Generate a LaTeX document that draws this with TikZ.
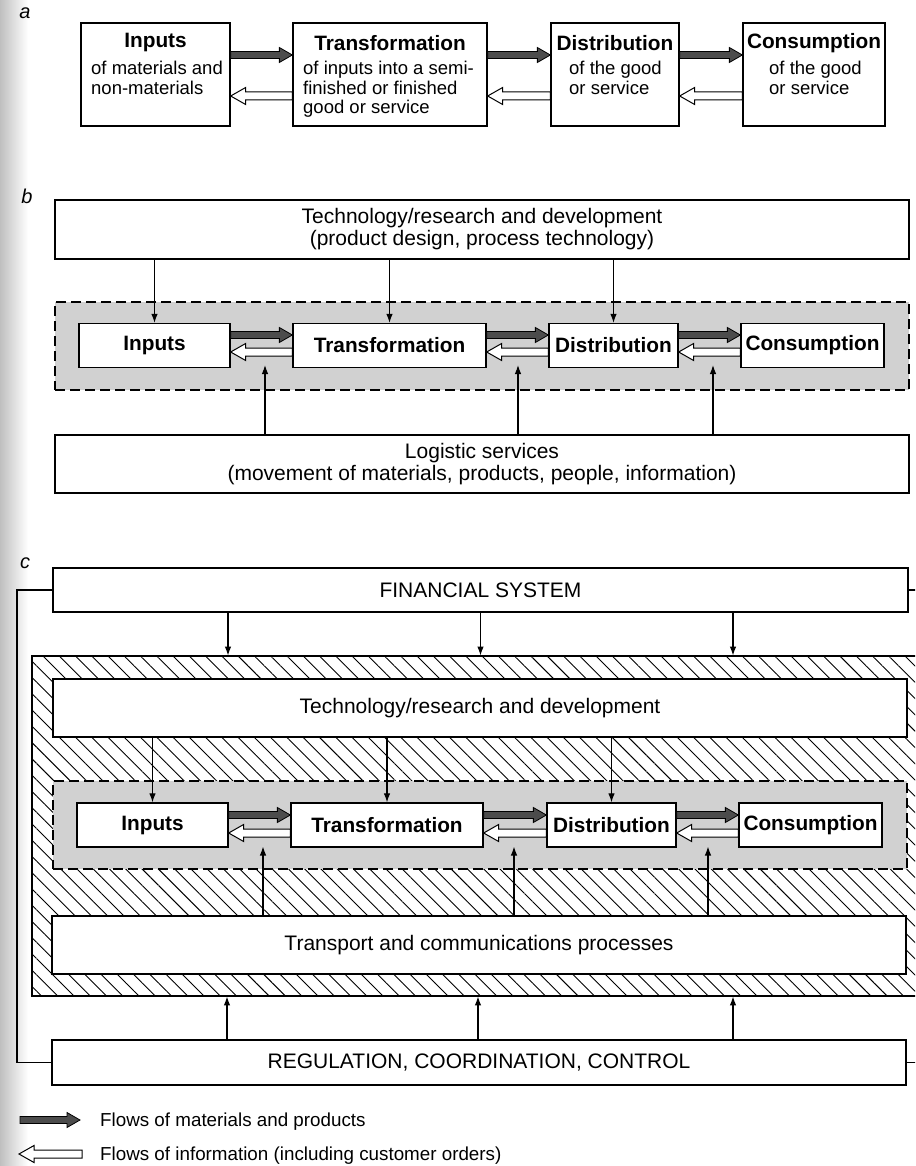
\documentclass[tikz,border=0pt]{standalone}
\usepackage{fontspec}
\setmainfont{Liberation Sans}
\usetikzlibrary{calc,arrows.meta,patterns.meta}

% horizontal block arrow: shaft half-height, head half-height, head length
\newcommand\flowshape[3]{%
  let \p1=(\tikztostart), \p2=(\tikztotarget),
      \p3=($(\tikztotarget)!#3!(\tikztostart)$) in
  (\x1,\y1+#1) -- (\x3,\y1+#1) -- (\x3,\y1+#2) -- (\x2,\y1)
  -- (\x3,\y1-#2) -- (\x3,\y1-#1) -- (\x1,\y1-#1) -- cycle}

\begin{document}
\begin{tikzpicture}[x=1pt,y=-1pt,
  box/.style={draw, line width=1.3pt, fill=white, inner sep=0pt},
  bigtxt/.style={font=\fontsize{21}{22}\selectfont, align=center},
  ttl/.style={inner sep=0pt, font=\fontsize{20.8}{22}\selectfont\bfseries},
  sub/.style={inner sep=0pt, align=left, font=\fontsize{18.5}{19.5}\selectfont},
  legend/.style={inner sep=0pt, anchor=west, font=\fontsize{18.8}{20}\selectfont},
  partlbl/.style={inner sep=0pt, font=\fontsize{20}{20}\selectfont\itshape},
  zone/.style={draw, line width=1.1pt, dash pattern=on 10pt off 5pt, fill=black!18, inner sep=0pt},
  hatchzone/.style={draw, line width=1.6pt, inner sep=0pt,
    pattern={Lines[angle=-45, distance=11.5pt, line width=0.9pt]}},
  flowline/.style={line width=1.1pt, -{Latex[length=9pt,width=6.5pt]}},
  matflow/.style={draw=black, line width=0.8pt, fill=black!70, line join=miter,
    to path={\flowshape{3.5pt}{7.5pt}{13pt}}},
  infoflow/.style={draw=black, line width=1pt, fill=white, line join=miter,
    to path={\flowshape{4pt}{8.5pt}{15pt}}},
]
\useasboundingbox (0,0) rectangle (915,1166);
\clip (0,0) rectangle (915,1166);
\fill[white] (0,0) rectangle (915,1166);
\shade[left color=black!25, right color=white] (0,0) rectangle (28,1166);

% ---------------- part a ----------------
\node[partlbl] (la) at (25,13) {a};

\node[box, minimum width=149pt, minimum height=103pt] (inA) at (155.5,74.5) {};
\node[box, minimum width=194pt, minimum height=103pt] (trA) at (390,74.5) {};
\node[box, minimum width=128pt, minimum height=103pt] (diA) at (615,74.5) {};
\node[box, minimum width=142pt, minimum height=103pt] (coA) at (814,74.5) {};

\node[ttl] (inAt) at (155.5,43) {Inputs};
\node[ttl] (trAt) at (390,43) {Transformation};
\node[ttl] (diAt) at (615,43) {Distribution};
\node[ttl] (coAt) at (814,43) {Consumption};

\node[sub, anchor=north west] (inAs) at (91,61) {of materials and\\non-materials};
\node[sub, anchor=north west] (trAs) at (303,61) {of inputs into a semi-\\finished or finished\\good or service};
\node[sub, anchor=north west] (diAs) at (569,61) {of the good\\or service};
\node[sub, anchor=north west] (coAs) at (769,61) {of the good\\or service};

\draw[matflow] ([yshift=19.5pt]inA.east) to ([yshift=19.5pt]trA.west);
\draw[matflow] ([yshift=19.5pt]trA.east) to ([yshift=19.5pt]diA.west);
\draw[matflow] ([yshift=19.5pt]diA.east) to ([yshift=19.5pt]coA.west);
\draw[infoflow] ([yshift=-21.5pt]trA.west) to ([yshift=-21.5pt]inA.east);
\draw[infoflow] ([yshift=-21.5pt]diA.west) to ([yshift=-21.5pt]trA.east);
\draw[infoflow] ([yshift=-21.5pt]coA.west) to ([yshift=-21.5pt]diA.east);

% ---------------- part b ----------------
\node[partlbl] (lb) at (27,196) {b};

\node[box, bigtxt, minimum width=854pt, minimum height=59pt] (techB) at (482,229.5)
  {Technology/research and development\\(product design, process technology)};
\node[zone, minimum width=854pt, minimum height=88pt] (zoneB) at (482,346) {};

\node[box, ttl, minimum width=151pt, minimum height=44pt] (inB) at (154.5,345.5) {Inputs};
\node[box, ttl, minimum width=193pt, minimum height=44pt] (trB) at (389.5,345.5) {Transformation};
\node[box, ttl, minimum width=129pt, minimum height=44pt] (diB) at (613.5,345.5) {Distribution};
\node[box, ttl, minimum width=143pt, minimum height=44pt] (coB) at (812.5,345.5) {Consumption};

\node[box, bigtxt, minimum width=854pt, minimum height=58pt] (logB) at (482,464)
  {Logistic services\\(movement of materials, products, people, information)};

\draw[matflow] ([yshift=10.5pt]inB.east) to ([yshift=10.5pt]trB.west);
\draw[matflow] ([yshift=10.5pt]trB.east) to ([yshift=10.5pt]diB.west);
\draw[matflow] ([yshift=10.5pt]diB.east) to ([yshift=10.5pt]coB.west);
\draw[infoflow] ([yshift=-6.5pt]trB.west) to ([yshift=-6.5pt]inB.east);
\draw[infoflow] ([yshift=-6.5pt]diB.west) to ([yshift=-6.5pt]trB.east);
\draw[infoflow] ([yshift=-6.5pt]coB.west) to ([yshift=-6.5pt]diB.east);

\draw[flowline] (techB.south -| inB.north) -- (inB.north);
\draw[flowline] (techB.south -| trB.north) -- (trB.north);
\draw[flowline] (techB.south -| diB.north) -- (diB.north);

\coordinate (gB1) at ($(inB.east)!0.5!(trB.west)+(3.5,19.5)$);
\coordinate (gB2) at ($(trB.east)!0.5!(diB.west)+(0.5,19.5)$);
\coordinate (gB3) at ($(diB.east)!0.5!(coB.west)+(3.5,19.5)$);
\draw[flowline] (logB.north -| gB1) -- (gB1);
\draw[flowline] (logB.north -| gB2) -- (gB2);
\draw[flowline] (logB.north -| gB3) -- (gB3);

% ---------------- part c ----------------
\node[partlbl] (lc) at (25,563) {c};

\node[hatchzone, minimum width=903pt, minimum height=340pt] (hatch) at (483.5,826) {};

\node[box, bigtxt, minimum width=855pt, minimum height=44pt] (finC) at (480.5,590) {FINANCIAL SYSTEM};
\node[box, bigtxt, minimum width=854pt, minimum height=58pt] (techC) at (480,708)
  {Technology/research and development};
\node[zone, minimum width=854pt, minimum height=88pt] (zoneC) at (480,825) {};

\node[box, ttl, minimum width=151pt, minimum height=44pt] (inC) at (152.5,825) {Inputs};
\node[box, ttl, minimum width=192pt, minimum height=44pt] (trC) at (387,825) {Transformation};
\node[box, ttl, minimum width=129pt, minimum height=44pt] (diC) at (611.5,825) {Distribution};
\node[box, ttl, minimum width=143pt, minimum height=44pt] (coC) at (810.5,825) {Consumption};

\node[box, bigtxt, minimum width=854pt, minimum height=58pt] (transC) at (479,945)
  {Transport and communications processes};
\node[box, bigtxt, minimum width=854pt, minimum height=45pt] (regC) at (479,1062.5)
  {REGULATION, COORDINATION, CONTROL};

\draw[matflow] ([yshift=10pt]inC.east) to ([yshift=10pt]trC.west);
\draw[matflow] ([yshift=10pt]trC.east) to ([yshift=10pt]diC.west);
\draw[matflow] ([yshift=10pt]diC.east) to ([yshift=10pt]coC.west);
\draw[infoflow] ([yshift=-8pt]trC.west) to ([yshift=-8pt]inC.east);
\draw[infoflow] ([yshift=-8pt]diC.west) to ([yshift=-8pt]trC.east);
\draw[infoflow] ([yshift=-8pt]coC.west) to ([yshift=-8pt]diC.east);

% finance feeds the hatched block
\coordinate (fx1) at ($(finC.south)+(-252.5,0)$);
\coordinate (fx2) at (finC.south);
\coordinate (fx3) at ($(finC.south)+(252.5,0)$);
\draw[flowline] (fx1) -- (fx1 |- hatch.north);
\draw[flowline] (fx2) -- (fx2 |- hatch.north);
\draw[flowline] (fx3) -- (fx3 |- hatch.north);

% technology feeds the chain
\draw[flowline] (techC.south -| inC.north) -- (inC.north);
\draw[flowline] (techC.south -| trC.north) -- (trC.north);
\draw[flowline] (techC.south -| diC.north) -- (diC.north);

% transport supports the chain
\coordinate (gC1) at ($(inC.east)!0.5!(trC.west)+(3.5,21.5)$);
\coordinate (gC2) at ($(trC.east)!0.5!(diC.west)+(-1,21.5)$);
\coordinate (gC3) at ($(diC.east)!0.5!(coC.west)+(0.5,21.5)$);
\draw[flowline] (transC.north -| gC1) -- (gC1);
\draw[flowline] (transC.north -| gC2) -- (gC2);
\draw[flowline] (transC.north -| gC3) -- (gC3);

% regulation acts on the hatched block
\coordinate (rx1) at ($(regC.north)+(-252,0)$);
\coordinate (rx2) at ($(regC.north)+(-1,0)$);
\coordinate (rx3) at ($(regC.north)+(254,0)$);
\draw[flowline] (rx1) -- (rx1 |- hatch.south);
\draw[flowline] (rx2) -- (rx2 |- hatch.south);
\draw[flowline] (rx3) -- (rx3 |- hatch.south);

% feedback loops between finance and regulation
\coordinate (loopL) at (17,0);
\coordinate (loopR) at (922,0);
\draw[line width=1.1pt] (finC.west) -- (finC.west -| loopL) -- (regC.west -| loopL) -- (regC.west);
\draw[line width=1.1pt] (finC.east) -- (finC.east -| loopR) -- (regC.east -| loopR) -- (regC.east);

% ---------------- legend ----------------
\coordinate (lmA) at (20,1120);
\coordinate (lmB) at (80,1120);
\draw[matflow] (lmA) to (lmB);
\node[legend] (lmT) at (100,1122) {Flows of materials and products};

\coordinate (liA) at (82,1154);
\coordinate (liB) at (19,1154);
\draw[infoflow] (liA) to (liB);
\node[legend] (liT) at (100,1156) {Flows of information (including customer orders)};
\end{tikzpicture}
\end{document}
